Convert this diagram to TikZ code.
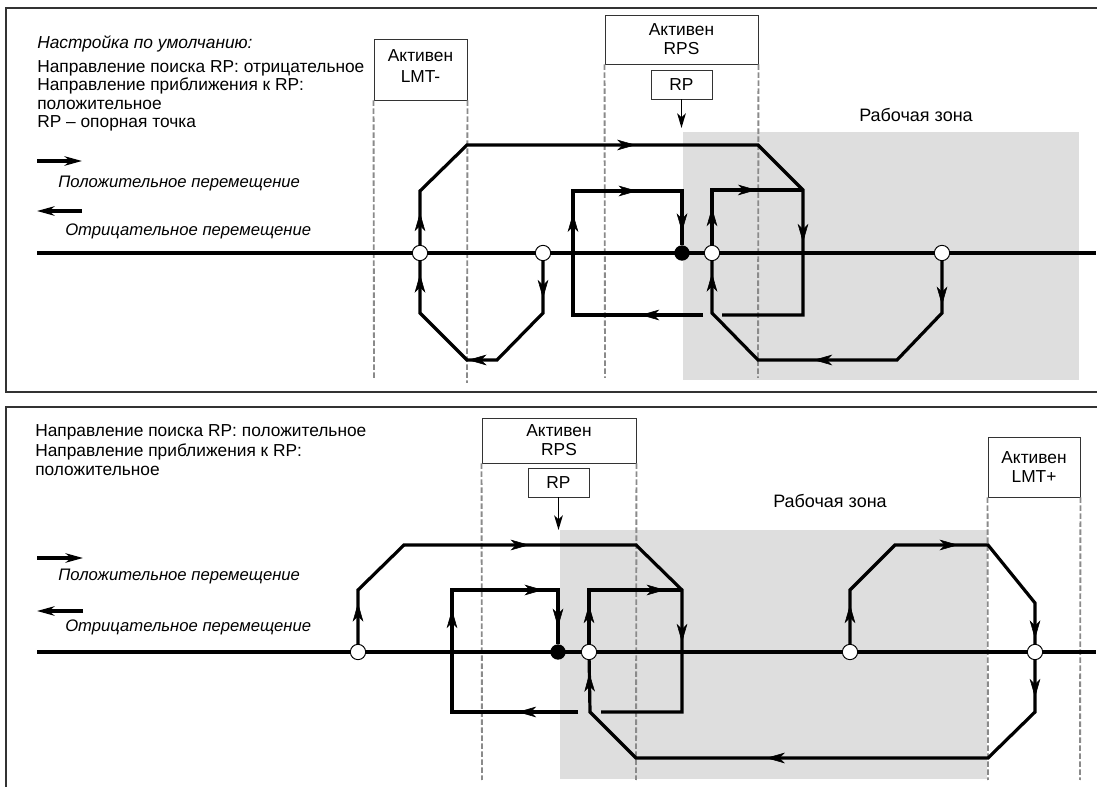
\documentclass[tikz,border=0pt]{standalone}
\usepackage{fontspec}
\setmainfont{Liberation Sans}
\usetikzlibrary{arrows.meta,decorations.markings}
\definecolor{zonegray}{HTML}{DEDEDE}
\definecolor{guidegray}{HTML}{8A8A8A}
\definecolor{framegray}{HTML}{333333}
\begin{document}
\begin{tikzpicture}[x=0.75pt,y=-0.75pt,
  trk/.style={line width=2.4pt, line join=miter},
  axisline/.style={line width=2.5pt},
  ar/.style={postaction={decorate,decoration={markings,mark=at position #1 with {\arrow{Stealth[length=14pt,width=8pt,inset=4pt]}}}}},
  guide/.style={draw=guidegray, line width=1.4pt, dash pattern=on 4pt off 2pt},
  lbox/.style={draw=framegray, line width=0.7pt, inner sep=0pt, align=center, font=\fontsize{13}{14.25}\selectfont},
  btext/.style={align=center, inner sep=0pt, font=\fontsize{13}{15.5}\selectfont},
  mtext/.style={anchor=base west, inner sep=0pt, font=\fontsize{13}{15}\selectfont},
  legtext/.style={anchor=base west, inner sep=0pt, font=\fontsize{12.5}{15}\selectfont\itshape},
  opt/.style={circle, draw, fill=white, line width=0.7pt, minimum size=11.5pt, inner sep=0pt},
  fpt/.style={circle, fill=black, minimum size=11.5pt, inner sep=0pt},
  panelframe/.style={draw=framegray, line width=1.5pt},
  legarr/.style={line width=2.4pt, -{Stealth[length=13pt,width=7pt,inset=4pt]}},
  rparr/.style={line width=1.3pt, -{Stealth[length=11pt,width=6.5pt,inset=3pt]}}
]
\useasboundingbox (0,0) rectangle (1097,787);

% ================= TOP PANEL =================
\fill[zonegray] (683,132) rectangle (1079,380);
\coordinate (tfa) at (1097,8); \coordinate (tfb) at (6,8);
\coordinate (tfc) at (6,392); \coordinate (tfd) at (1097,392);
\draw[panelframe] (tfa) -- (tfb) -- (tfc) -- (tfd);

\node[mtext, font=\fontsize{13}{15}\selectfont\itshape] (t1) at (37,49) {Настройка по умолчанию:};
\node[mtext] (t2) at (37,72.5) {Направление поиска RP: отрицательное};
\node[mtext] (t3) at (37,91) {Направление приближения к RP:};
\node[mtext] (t4) at (37,110) {положительное};
\node[mtext] (t5) at (37,127.5) {RP – опорная точка};

\coordinate (lg1a) at (37,161); \coordinate (lg1b) at (82,161);
\draw[legarr] (lg1a) -- (lg1b);
\node[legtext] (lg1t) at (58,188) {Положительное перемещение};
\coordinate (lg2a) at (82,211); \coordinate (lg2b) at (37,211);
\draw[legarr] (lg2a) -- (lg2b);
\node[legtext] (lg2t) at (65,236) {Отрицательное перемещение};

\node[mtext, anchor=base, font=\fontsize{13.5}{15}\selectfont] (wz1) at (916,122) {Рабочая зона};

% boxes
\node[lbox, minimum width=69.75pt, minimum height=45.75pt] (lmtm) at (420.5,69.5) {};
\node[btext] (lmtmt) at (420.5,66) {Активен\\LMT-};
\node[lbox, minimum width=114.75pt, minimum height=36.75pt] (rps1) at (681.5,39.5) {Активен\\RPS};
\node[lbox, minimum width=45.75pt, minimum height=21.75pt] (rp1) at (681.5,84.5) {RP};
\coordinate (rp1t) at (681.5,128);
\draw[rparr] (rp1.south) -- (rp1t);

\coordinate (g1) at (374,378); \coordinate (g2) at (467,383);
\coordinate (g3) at (605,378); \coordinate (g4) at (758,378);
\draw[guide] (lmtm.south west) -- (g1);
\draw[guide] (lmtm.south east) -- (g2);
\draw[guide] (rps1.south west) -- (g3);
\draw[guide] (rps1.south east) -- (g4);

% axis
\coordinate (ax1a) at (37,253); \coordinate (ax1b) at (1096,253);
\draw[axisline] (ax1a) -- (ax1b);
\node[opt] (c1) at (420,253) {};
\node[opt] (c2) at (543,253) {};
\node[opt] (c3) at (712,253) {};
\node[opt] (c4) at (942,253) {};
\node[fpt] (f1) at (682,253) {};

% track A
\coordinate (a1) at (543,313);
\coordinate (a2) at (497,360);
\coordinate (a3) at (467,360);
\coordinate (a4) at (420,313);
\coordinate (a5) at (420,191);
\coordinate (a6) at (467,145);
\coordinate (a7) at (758,145);
\coordinate (a8) at (803,190);
\coordinate (a9) at (803,315);
\coordinate (a10) at (722,315);
\draw[trk] (c2) -- (a1) -- (a2) -- (a3) -- (a4) -- (c1);
\draw[trk] (c1) -- (a5) -- (a6) -- (a7) -- (a8) -- (a9) -- (a10);
\path[ar=0.72] (c2) -- (a1);
\path[ar=0.97] (a2) -- (a3);
\path[ar=0.75] (a4) -- (c1);
\path[ar=0.6] (c1) -- (a5);
\path[ar=0.58] (a6) -- (a7);
\path[ar=0.42] (a8) -- (a9);

% track B (left rectangle)
\coordinate (b1) at (703,315);
\coordinate (b2) at (573,315);
\coordinate (b3) at (573,191);
\coordinate (b4) at (682,191);
\draw[trk] (b1) -- (b2) -- (b3) -- (b4) -- (f1);
\path[ar=0.48] (b1) -- (b2);
\path[ar=0.82] (b2) -- (b3);
\path[ar=0.59] (b3) -- (b4);
\path[ar=0.76] (b4) -- (f1);

% track C (right)
\coordinate (d1) at (942,313);
\coordinate (d2) at (897,360);
\coordinate (d3) at (758,360);
\coordinate (d4) at (712,313);
\coordinate (d5) at (712,190);
\draw[trk] (c4) -- (d1) -- (d2) -- (d3) -- (d4) -- (c3);
\draw[trk] (c3) -- (d5) -- (a8);
\path[ar=0.85] (c4) -- (d1);
\path[ar=0.6] (d2) -- (d3);
\path[ar=0.77] (d4) -- (c3);
\path[ar=0.68] (c3) -- (d5);
\path[ar=0.49] (d5) -- (a8);

% ================= BOTTOM PANEL =================
\fill[zonegray] (560,530) rectangle (987,779);
\coordinate (bfa) at (1097,407); \coordinate (bfb) at (6,407);
\coordinate (bfc) at (6,787);
\draw[panelframe] (bfa) -- (bfb) -- (bfc);

\node[mtext] (s1) at (35,437) {Направление поиска RP: положительное};
\node[mtext] (s2) at (35,457) {Направление приближения к RP:};
\node[mtext] (s3) at (35,476) {положительное};

\coordinate (lg3a) at (37,558); \coordinate (lg3b) at (83,558);
\draw[legarr] (lg3a) -- (lg3b);
\node[legtext] (lg3t) at (58,581) {Положительное перемещение};
\coordinate (lg4a) at (83,611); \coordinate (lg4b) at (37,611);
\draw[legarr] (lg4a) -- (lg4b);
\node[legtext] (lg4t) at (65,632) {Отрицательное перемещение};

\node[mtext, anchor=base, font=\fontsize{13.5}{15}\selectfont] (wz2) at (830,508) {Рабочая зона};

\node[lbox, minimum width=115.5pt, minimum height=33.75pt] (rps2) at (559,440.5) {Активен\\RPS};
\node[lbox, minimum width=45.75pt, minimum height=21.75pt] (rp2) at (558.5,482.5) {RP};
\node[lbox, minimum width=69pt, minimum height=45pt] (lmtp) at (1034,467) {Активен\\LMT+};
\coordinate (rp2t) at (558.5,530);
\draw[rparr] (rp2.south) -- (rp2t);

\coordinate (h1) at (482,780); \coordinate (h2) at (636,780);
\coordinate (h3) at (988,780); \coordinate (h4) at (1080,780);
\draw[guide] (rps2.south west) -- (h1);
\draw[guide] (rps2.south east) -- (h2);
\draw[guide] (lmtp.south west) -- (h3);
\draw[guide] (lmtp.south east) -- (h4);

\coordinate (ax2a) at (37,652); \coordinate (ax2b) at (1096,652);
\draw[axisline] (ax2a) -- (ax2b);
\node[opt] (e1) at (358,652) {};
\node[opt] (e2) at (589,652) {};
\node[opt] (e3) at (850,652) {};
\node[opt] (e4) at (1035,652) {};
\node[fpt] (f2) at (558,652) {};

% track P
\coordinate (p1) at (358,590);
\coordinate (p2) at (404,545);
\coordinate (p3) at (636,545);
\coordinate (p4) at (682,590);
\coordinate (p5) at (682,712);
\coordinate (p6) at (601,712);
\draw[trk] (e1) -- (p1) -- (p2) -- (p3) -- (p4) -- (p5) -- (p6);
\path[ar=0.76] (e1) -- (p1);
\path[ar=0.54] (p2) -- (p3);
\path[ar=0.43] (p4) -- (p5);

% track Q (left rectangle)
\coordinate (q1) at (578,712);
\coordinate (q2) at (452,712);
\coordinate (q3) at (452,590);
\coordinate (q4) at (558,590);
\draw[trk] (q1) -- (q2) -- (q3) -- (q4) -- (f2);
\path[ar=0.48] (q1) -- (q2);
\path[ar=0.84] (q2) -- (q3);
\path[ar=0.86] (q3) -- (q4);
\path[ar=0.69] (q4) -- (f2);

% track R (long lower loop)
\coordinate (r1) at (1035,712);
\coordinate (r2) at (988,758);
\coordinate (r3) at (636,758);
\coordinate (r4) at (590,712);
\coordinate (r5) at (589,590);
\draw[trk] (e4) -- (r1) -- (r2) -- (r3) -- (r4) -- (e2);
\draw[trk] (e2) -- (r5) -- (p4);
\path[ar=0.72] (e4) -- (r1);
\path[ar=0.63] (r2) -- (r3);
\path[ar=0.75] (r4) -- (e2);
\path[ar=0.73] (e2) -- (r5);
\path[ar=0.82] (r5) -- (p4);

% track S (right upper loop)
\coordinate (u1) at (850,590);
\coordinate (u2) at (895,545);
\coordinate (u3) at (988,545);
\coordinate (u4) at (1035,603);
\draw[trk] (e3) -- (u1) -- (u2) -- (u3) -- (u4) -- (e4);
\path[ar=0.73] (e3) -- (u1);
\path[ar=0.68] (u2) -- (u3);
\path[ar=0.88] (u4) -- (e4);
\end{tikzpicture}
\end{document}
